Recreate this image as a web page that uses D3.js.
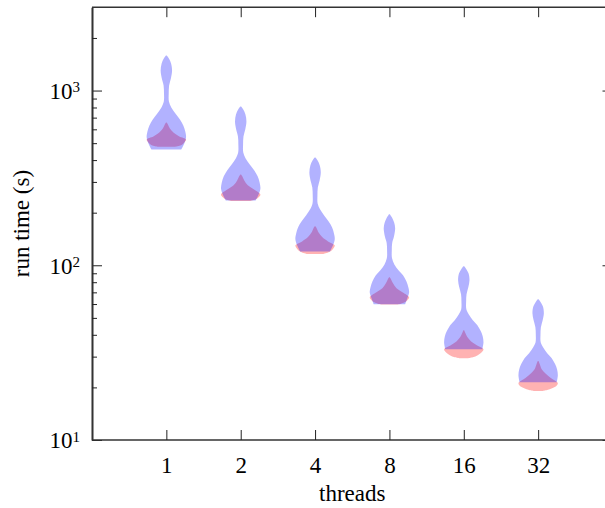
<!DOCTYPE html>
<html>
<head>
<meta charset="utf-8">
<script src="https://cdn.jsdelivr.net/npm/d3@7"></script>
<style>
  html, body { margin: 0; padding: 0; background: #fff; }
  svg { display: block; }
  text { font-family: "Liberation Serif", "DejaVu Serif", serif; fill: #000; }
</style>
</head>
<body>
<svg id="chart" width="605" height="508"></svg>
<script>
// ---- data ----
const categories = ["1", "2", "4", "8", "16", "32"];

// y-axis ticks
const majorTicks = [10, 100, 1000];
const minorTicks = [20, 30, 40, 50, 60, 70, 80, 90, 200, 300, 400, 500, 600, 700, 800, 900, 2000];

// violin profiles: [run time (s), relative density]
// blue series (wide distribution with long upper tail)
const blue1  = [[1585,0.02],[1524,0.13],[1427,0.24],[1301,0.29],[1171,0.23],[1068,0.14],[961,0.12],[865,0.13],[800,0.25],[739,0.46],[683,0.69],[631,0.86],[583,0.96],[539,1.0],[498,0.91],[460,0.76]];
const blue2  = [[810,0.02],[779,0.13],[729,0.24],[665,0.29],[599,0.23],[546,0.14],[491,0.12],[442,0.13],[409,0.25],[378,0.46],[349,0.69],[323,0.86],[298,0.96],[275,1.0],[254,0.91],[235,0.76]];
const blue4  = [[414,0.02],[398,0.13],[373,0.24],[340,0.29],[306,0.23],[279,0.14],[251,0.12],[226,0.13],[209,0.25],[193,0.46],[178,0.69],[165,0.86],[152,0.96],[141,1.0],[130,0.91],[120,0.76]];
const blue8  = [[196,0.02],[188,0.13],[176,0.24],[163,0.29],[146,0.23],[134,0.14],[122,0.12],[110,0.13],[101,0.25],[93.6,0.46],[87.7,0.69],[81.0,0.86],[74.9,0.96],[70.1,1.0],[64.8,0.91],[59.9,0.80]];
const blue16 = [[98.7,0.02],[94.9,0.13],[90.0,0.24],[82.1,0.29],[74.9,0.23],[68.3,0.14],[62.3,0.12],[56.1,0.13],[52.5,0.25],[48.5,0.46],[45.4,0.69],[42.0,0.86],[39.3,0.96],[36.3,1.0],[33.1,0.94]];
const blue32 = [[63.9,0.02],[61.5,0.13],[58.3,0.24],[53.2,0.29],[48.5,0.23],[44.2,0.14],[40.3,0.12],[36.3,0.13],[34.0,0.25],[31.4,0.46],[29.4,0.69],[27.2,0.86],[25.4,0.96],[23.5,1.0],[21.4,0.94]];

// red series (narrow distribution near the minimum)
const red1  = [[656,0.02],[639,0.08],[607,0.18],[575,0.36],[546,0.66],[525,1.0],[505,0.91],[486,0.75],[477,0.45]];
const red2  = [[331,0.02],[323,0.08],[306,0.18],[287,0.36],[272,0.66],[254,1.0],[245,0.91],[238,0.75],[233,0.45]];
const red4  = [[167,0.02],[163,0.08],[154,0.18],[145,0.36],[137,0.66],[130,1.0],[124,0.91],[119,0.72],[116,0.42]];
const red8  = [[85.4,0.02],[83.2,0.08],[78.9,0.18],[73.9,0.36],[70.1,0.66],[65.6,1.0],[63.1,0.91],[61.0,0.72],[59.6,0.42]];
const red16 = [[42.5,0.02],[40.9,0.08],[38.8,0.18],[36.8,0.36],[34.9,0.66],[33.1,1.0],[31.8,0.91],[30.6,0.71],[29.8,0.46],[29.4,0.2]];
const red32 = [[28.3,0.02],[27.2,0.08],[25.4,0.18],[24.1,0.36],[22.6,0.66],[21.2,1.0],[20.3,0.91],[19.8,0.71],[19.3,0.46],[19.05,0.2]];

const blueSeries = [blue1, blue2, blue4, blue8, blue16, blue32];
const redSeries  = [red1, red2, red4, red8, red16, red32];

// ---- layout ----
const plotLeft = 92, plotRight = 612.5, plotTop = 7.2, plotBottom = 440;

const svg = d3.select("#chart");

const x = d3.scalePoint().domain(categories).range([plotLeft, plotRight]).padding(1);
const y = d3.scaleLog().domain([10, 3000]).range([plotBottom, plotTop]);
const w = d3.scaleLinear().domain([0, 1]).range([0, 19.7]);

// ---- violins ----
function violin(data, cat) {
  const cx = x(cat);
  return d3.area()
    .y(d => y(d[0]))
    .x0(d => cx - w(d[1]))
    .x1(d => cx + w(d[1]))
    .curve(d3.curveCatmullRom.alpha(0.5))(data);
}

const g = svg.append("g");
categories.forEach((c, i) => {
  g.append("path").attr("d", violin(redSeries[i], c))
    .attr("fill", "rgb(255,0,0)").attr("fill-opacity", 0.3);
});
categories.forEach((c, i) => {
  g.append("path").attr("d", violin(blueSeries[i], c))
    .attr("fill", "rgb(0,0,255)").attr("fill-opacity", 0.3);
});

// ---- axes ----
const axisColor = "#333";
function styleAxis(sel) {
  sel.select(".domain").attr("stroke", axisColor).attr("stroke-width", 1.6);
  sel.selectAll(".tick line").attr("stroke", "#222").attr("stroke-width", 1);
}

// left major with labels
const leftMajor = svg.append("g").attr("transform", `translate(${plotLeft},0)`)
  .call(d3.axisLeft(y).tickValues(majorTicks).tickSizeInner(-10).tickSizeOuter(0).tickFormat(""));
styleAxis(leftMajor);
leftMajor.selectAll(".tick").each(function(d) {
  const t = d3.select(this).append("text")
    .attr("x", -12).attr("dy", "0.34em")
    .attr("text-anchor", "end")
    .style("font-size", "23px");
  t.append("tspan").text("10");
  t.append("tspan").attr("dy", "-0.45em").style("font-size", "15px")
    .text(String(Math.round(Math.log10(d))));
});
// left minor
const leftMinor = svg.append("g").attr("transform", `translate(${plotLeft},0)`)
  .call(d3.axisLeft(y).tickValues(minorTicks).tickSizeInner(-5).tickSizeOuter(0).tickFormat(""));
styleAxis(leftMinor);

// right mirror
const rightMajor = svg.append("g").attr("transform", `translate(${plotRight},0)`)
  .call(d3.axisRight(y).tickValues(majorTicks).tickSizeInner(-10).tickSizeOuter(0).tickFormat(""));
styleAxis(rightMajor);
const rightMinor = svg.append("g").attr("transform", `translate(${plotRight},0)`)
  .call(d3.axisRight(y).tickValues(minorTicks).tickSizeInner(-5).tickSizeOuter(0).tickFormat(""));
styleAxis(rightMinor);

// bottom
const bottomAxis = svg.append("g").attr("transform", `translate(0,${plotBottom})`)
  .call(d3.axisBottom(x).tickSizeInner(-10).tickSizeOuter(0).tickPadding(17));
styleAxis(bottomAxis);
bottomAxis.selectAll("text")
  .style("font-size", "23px").style("font-family", "'Liberation Serif', serif").attr("fill", "#000");

// top mirror
const topAxis = svg.append("g").attr("transform", `translate(0,${plotTop})`)
  .call(d3.axisTop(x).tickSizeInner(-10).tickSizeOuter(0).tickFormat(""));
styleAxis(topAxis);

// extend horizontal spines over full plot width
bottomAxis.select(".domain").attr("d", `M${plotLeft},0H${plotRight}`);
topAxis.select(".domain").attr("d", `M${plotLeft},0H${plotRight}`);

// ---- titles ----
svg.append("text")
  .attr("x", (plotLeft + plotRight) / 2).attr("y", 501)
  .attr("text-anchor", "middle")
  .style("font-size", "23px")
  .text("threads");

svg.append("text")
  .attr("transform", `translate(29,${(plotTop + plotBottom) / 2}) rotate(-90)`)
  .attr("text-anchor", "middle")
  .style("font-size", "23px")
  .text("run time (s)");
</script>
</body>
</html>
